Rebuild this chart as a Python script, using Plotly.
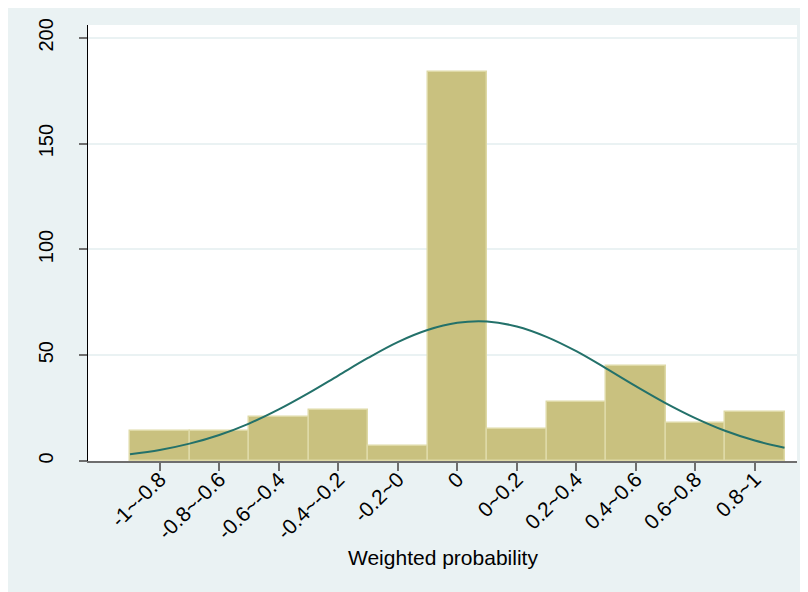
import plotly.graph_objects as go

# ---- data ----
bin_labels = ["-1~-0.8", "-0.8~-0.6", "-0.6~-0.4", "-0.4~-0.2", "-0.2~0", "0",
              "0~0.2", "0.2~0.4", "0.4~0.6", "0.6~0.8", "0.8~1"]
bin_pos = [0, 1, 2, 3, 4, 5, 6, 7, 8, 9, 10]
freq = [14, 14, 21, 24, 7, 184, 15, 28, 45, 18, 23]

# normal-density overlay at half-bin steps
curve_x = [-0.5, 0, 0.5, 1, 1.5, 2, 2.5, 3, 3.5, 4, 4.5, 5, 5.5, 6, 6.5, 7,
           7.5, 8, 8.5, 9, 9.5, 10, 10.5]
curve_y = [3.2, 5.2, 8.2, 12.3, 17.7, 24.4, 32.1, 40.4, 48.7, 56.2, 61.9, 65.3,
           65.9, 63.6, 58.7, 51.9, 43.8, 35.4, 27.4, 20.3, 14.3, 9.7, 6.3]

y_ticks = [0, 50, 100, 150, 200]
x_title = "Weighted probability"

BG = "#EAF2F3"
FONT = "Liberation Sans, Arial, sans-serif"

fig = go.Figure()
fig.add_trace(go.Bar(
    x=bin_pos, y=freq, width=1,
    marker=dict(color="#C9C17F", line=dict(color="#DED9A6", width=1.5)),
    hoverinfo="skip", showlegend=False))
fig.add_trace(go.Scatter(
    x=curve_x, y=curve_y, mode="lines", line=dict(color="#23716A", width=2, shape="spline"),
    hoverinfo="skip", showlegend=False))

# the page body adds an 8px offset, so the figure is 800x584
L, R, T, B = 80, 11, 17, 131
W, H = 800, 584
pw, ph = W - L - R, H - T - B

fig.update_layout(
    width=W, height=H,
    margin=dict(l=L, r=R, t=T, b=B, pad=0),
    paper_bgcolor=BG, plot_bgcolor="white",
    bargap=0,
    font=dict(family=FONT, size=20, color="black"),
    xaxis=dict(
        range=[-1.206, 10.71],
        tickmode="array", tickvals=bin_pos, ticktext=bin_labels,
        tickangle=-45, ticks="outside", ticklen=8, tickwidth=1.5, tickcolor="#6E6E6E",
        showline=True, linecolor="#6E6E6E", linewidth=1.5,
        showgrid=False, zeroline=False,
        tickfont=dict(size=21), ticklabelstandoff=-12,
    ),
    yaxis=dict(
        range=[0, 206.1],
        tickmode="array", tickvals=y_ticks, ticktext=[str(v) for v in y_ticks],
        tickangle=-90, ticks="outside", ticklen=8, tickwidth=1.5, tickcolor="#6E6E6E",
        showline=True, linecolor="black", linewidth=1,
        showgrid=True, gridcolor=BG, gridwidth=1.5,
        zeroline=False, ticklabelstandoff=18,
        tickfont=dict(size=20),
    ),
    annotations=[
        dict(text=x_title, xref="paper", yref="paper", x=0.5, y=(461 - 557) / ph,
             xanchor="center", yanchor="middle", showarrow=False,
             font=dict(size=21, family=FONT, color="black")),
    ],
)

fig.write_html("out.html")
